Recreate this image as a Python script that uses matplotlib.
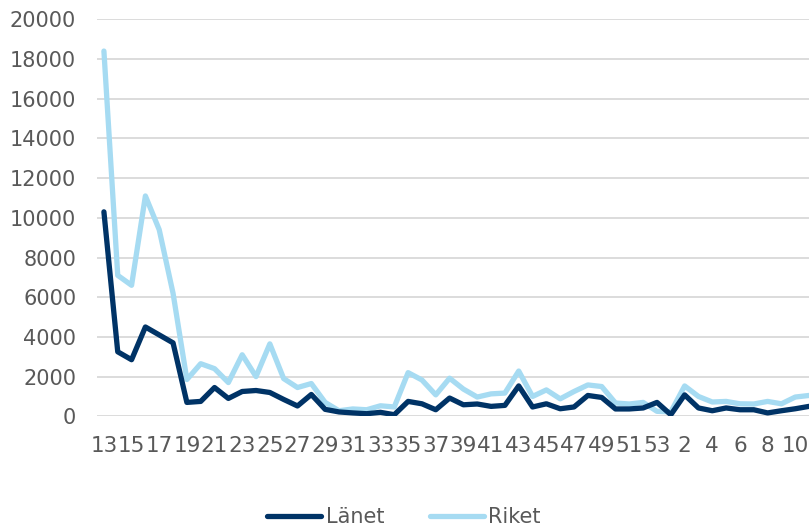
import matplotlib.pyplot as plt

# week numbers: 13..53, then 1..11
weeks = list(range(13, 54)) + list(range(1, 12))

lanet = [10300, 3250, 2850, 4500, 4100, 3700, 700, 750, 1450, 900,
         1250, 1300, 1200, 850, 520, 1100, 350, 220, 170, 130,
         200, 80, 750, 630, 330, 920, 580, 620, 500, 550,
         1530, 470, 630, 380, 470, 1050, 950, 370, 370, 420,
         700, 80, 1080, 420, 280, 420, 330, 330, 170, 280,
         380, 500]

riket = [18400, 7100, 6600, 11100, 9400, 6200, 1850, 2650, 2400, 1700,
         3100, 2000, 3650, 1900, 1450, 1650, 700, 280, 370, 330,
         530, 470, 2200, 1830, 1080, 1920, 1370, 970, 1130, 1170,
         2280, 1000, 1330, 880, 1250, 1580, 1500, 670, 620, 700,
         250, 220, 1530, 1000, 720, 750, 630, 620, 750, 630,
         970, 1050]

y_ticks = list(range(0, 20001, 2000))

col_lanet = '#003366'
col_riket = '#A6DBF2'
text_col = '#595959'

plt.rcParams['font.family'] = 'DejaVu Sans'

W, H = 809, 527
fig = plt.figure(figsize=(W / 100, H / 100), dpi=100)
ax = fig.add_axes([97 / W, (H - 416.3) / H, (816 - 97) / W, (416.3 - 19.3) / H])

x = list(range(len(weeks)))
ax.plot(x, lanet, color=col_lanet, linewidth=3.8, solid_joinstyle='round',
        solid_capstyle='round', label='Länet', zorder=3)
ax.plot(x, riket, color=col_riket, linewidth=3.8, solid_joinstyle='round',
        solid_capstyle='round', label='Riket', zorder=2)

ax.set_xlim(-0.5, len(weeks) - 0.5)
ax.set_ylim(0, 20000)
ax.set_yticks(y_ticks)
ax.set_yticklabels([str(v) for v in y_ticks])
ax.set_xticks(x[::2])
ax.set_xticklabels([str(w) for w in weeks[::2]])

ax.grid(axis='y', color='#d9d9d9', linewidth=1.3, zorder=0)
ax.set_axisbelow(True)
for s in ax.spines.values():
    s.set_visible(False)
ax.tick_params(axis='both', length=0, labelsize=15, colors=text_col)
ax.tick_params(axis='y', pad=15)
ax.tick_params(axis='x', pad=14, labelsize=15.5)

leg = fig.legend(loc='center', bbox_to_anchor=(404 / W, 1 - 517 / H),
                 ncol=2, frameon=False, fontsize=15, handlelength=2.6,
                 handletextpad=0.2, columnspacing=2.2)
for t in leg.get_texts():
    t.set_color(text_col)

fig.savefig('out.png', dpi=100)
